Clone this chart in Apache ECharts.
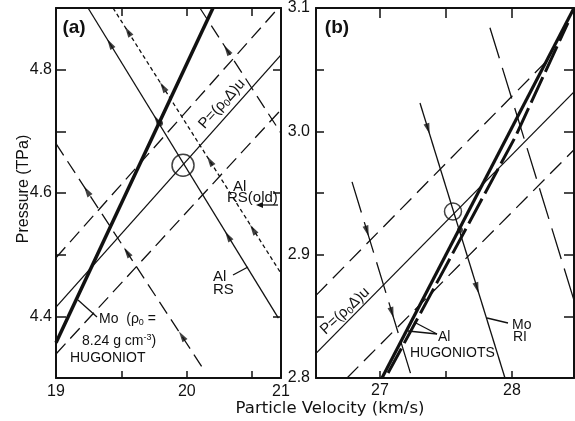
<!DOCTYPE html>
<html><head><meta charset="utf-8">
<script src="https://cdn.jsdelivr.net/npm/echarts@6/dist/echarts.min.js"></script>
<style>html,body{margin:0;padding:0;background:#fff}#c{width:575px;height:421px}</style>
</head><body><div id="c"></div>
<script>
// ---------- Panel (a) ----------
const aXRange = [19, 20.72];
const aYRange = [4.3, 4.9];
const aXLabelValues = [19, 20, 20.72];
const aXTickLabels = ['19', '20', '21'];
const aXTickValues = [19.5, 20, 20.5];
const aYLabelValues = [4.4, 4.6, 4.8];
const aYTickLabels = ['4.4', '4.6', '4.8'];
const aYTickValues = [4.4, 4.5, 4.6, 4.7, 4.8];
const aYRightTickValues = [4.4, 4.6, 4.8];

const aMoHugoniot   = [[19.0, 4.357], [20.2, 4.90]];
const aRhoDeltaU    = [[19.0, 4.415], [20.72, 4.824]];
const aUpperBound   = [[19.0, 4.495], [20.70, 4.90]];
const aLowerBound   = [[19.0, 4.339], [20.72, 4.735]];
const aAlRS         = [[19.245, 4.90], [20.70, 4.397]];
const aAlRSold      = [[19.436, 4.90], [20.713, 4.472]];
const aLeftDashed   = [[19.0, 4.68], [20.116, 4.318]];
const aRightDashed  = [[20.10, 4.90], [20.72, 4.697]];
const aAlRSArrows     = [[19.413, 4.842], [19.772, 4.718], [20.315, 4.530]];
const aAlRSoldArrows  = [[19.55, 4.862], [19.818, 4.772], [20.177, 4.652], [20.506, 4.541]];
const aLeftArrows     = [[19.237, 4.603], [19.543, 4.504], [19.963, 4.368]];
const aRightArrows    = [[20.307, 4.832]];
const aCircle = [19.971, 4.645];
const aDot = [19.795, 4.713];

// ---------- Panel (b) ----------
const bXRange = [26.515, 28.47];
const bYRange = [2.8, 3.1];
const bXLabelValues = [27, 28];
const bXTickLabels = ['27', '28'];
const bXTickValues = [27, 27.5, 28];
const bYLabelValues = [2.8, 2.9, 3.0, 3.1];
const bYTickLabels = ['2.8', '2.9', '3.0', '3.1'];
const bYTickValues = [2.85, 2.9, 2.95, 3.0, 3.05];

const bAlHugSolid   = [[27.015, 2.80], [28.47, 3.10]];
const bAlHugDashed  = [[27.061, 2.804], [27.455, 2.882], [28.023, 2.995], [28.424, 3.088]];
const bRhoDeltaU    = [[26.515, 2.820], [28.47, 3.032]];
const bUpperBound   = [[26.515, 2.867], [28.29, 3.060]];
const bLowerBound   = [[26.75, 2.80], [28.47, 2.985]];
const bMoRI         = [[27.303, 3.023], [27.947, 2.80]];
const bLeftDashed   = [[26.788, 2.959], [27.242, 2.80]];
const bRightDashed  = [[27.833, 3.084], [28.47, 2.863]];
const bMoRIArrows   = [[27.364, 3.002], [27.735, 2.873]];
const bLeftArrows   = [[26.902, 2.919], [27.091, 2.853]];
const bCircle = [27.553, 2.935];
const bDot = [27.606, 2.92];

// ---------- styling helpers ----------
const INK = '#111';
const FONT = 'Liberation Sans';
function pick(vals, labels, v) {
  for (let i = 0; i < vals.length; i++) if (Math.abs(vals[i] - v) < 1e-6) return labels[i];
  return '';
}
function axis(grid, pos, range, tickVals, tickLen, labelVals, labels, margin) {
  return {
    type: 'value', gridIndex: grid, position: pos, min: range[0], max: range[1],
    axisLine: { show: true, onZero: false, lineStyle: { color: INK, width: 2 } },
    axisTick: { show: true, inside: true, length: tickLen, customValues: tickVals, lineStyle: { color: INK, width: 1.5 } },
    axisLabel: labelVals ? {
      show: true, customValues: labelVals, formatter: v => pick(labelVals, labels, v),
      color: INK, fontFamily: FONT, fontSize: 16, margin: margin
    } : { show: false },
    splitLine: { show: false }
  };
}
function ln(id, data, g, w, type) {
  return { id, type: 'line', data, xAxisIndex: g ? 2 : 0, yAxisIndex: g ? 2 : 0,
    symbol: 'none', silent: true, animation: false, z: 2,
    lineStyle: { color: INK, width: w, type: type || 'solid', cap: 'butt' } };
}
const ARROW = 'path://M0,-6 L3,5 L-3,5 Z';
function arr(id, data, g) {
  return { id, type: 'scatter', data, xAxisIndex: g ? 2 : 0, yAxisIndex: g ? 2 : 0,
    symbol: ARROW, symbolSize: [6, 11], itemStyle: { color: INK }, z: 5, silent: true };
}
function circ(id, pt, g, size, filled) {
  return { id, type: 'scatter', data: [pt], xAxisIndex: g ? 2 : 0, yAxisIndex: g ? 2 : 0,
    symbol: 'circle', symbolSize: size, z: 6, silent: true,
    itemStyle: filled ? { color: INK } : { color: 'rgba(0,0,0,0)', borderColor: INK, borderWidth: 1.5 } };
}
function txt(x, y, text, size, opts) {
  opts = opts || {};
  return { type: 'text', x, y, rotation: opts.rot || 0, z: 10, silent: true,
    style: { text, fontFamily: opts.family || FONT, fontSize: size, fontWeight: opts.weight || 'normal',
      fill: INK, align: opts.align || 'left', textAlign: opts.align || 'left',
      verticalAlign: 'middle', textVerticalAlign: 'middle', rich: opts.rich } };
}
function seg(x1, y1, x2, y2) {
  return { type: 'line', z: 10, silent: true, shape: { x1, y1, x2, y2 }, style: { stroke: INK, lineWidth: 1.3 } };
}
const richSub = (s) => ({
  s: { fontFamily: FONT, fontSize: s - 5, padding: [7, 0, 0, 0], verticalAlign: 'middle' },
  t: { fontFamily: FONT, fontSize: s - 5, padding: [0, 0, 7, 0], verticalAlign: 'middle' },
  n: { fontFamily: FONT, fontSize: s, verticalAlign: 'middle' }
});

const option = {
  animation: false,
  backgroundColor: '#fff',
  grid: [
    { left: 56, top: 8, width: 225, height: 370 },
    { left: 316, top: 8, width: 258, height: 370 }
  ],
  xAxis: [
    axis(0, 'bottom', aXRange, aXTickValues, 7, aXLabelValues, aXTickLabels, 6),
    axis(0, 'top', aXRange, aXTickValues, 8, null),
    axis(1, 'bottom', bXRange, bXTickValues, 7, bXLabelValues, bXTickLabels, 5),
    axis(1, 'top', bXRange, bXTickValues, 10, null)
  ],
  yAxis: [
    axis(0, 'left', aYRange, aYTickValues, 10, aYLabelValues, aYTickLabels, 4),
    axis(0, 'right', aYRange, aYRightTickValues, 8, null),
    axis(1, 'left', bYRange, bYTickValues, 8, bYLabelValues, bYTickLabels, 6),
    axis(1, 'right', bYRange, bYTickValues, 10, null)
  ],
  series: [
    ln('aMo', aMoHugoniot, 0, 3.5),
    ln('aP', aRhoDeltaU, 0, 1.3),
    ln('aUp', aUpperBound, 0, 1.3, [14, 7]),
    ln('aLo', aLowerBound, 0, 1.3, [14, 7]),
    ln('aRS', aAlRS, 0, 1.3),
    ln('aRSold', aAlRSold, 0, 1.3, [4, 3]),
    ln('aL', aLeftDashed, 0, 1.3, [14, 7]),
    ln('aR', aRightDashed, 0, 1.3, [14, 7]),
    arr('aRSA', aAlRSArrows, 0),
    arr('aRSoldA', aAlRSoldArrows, 0),
    arr('aLA', aLeftArrows, 0),
    arr('aRA', aRightArrows, 0),
    circ('aC', aCircle, 0, 22, false),
    circ('aD', aDot, 0, 6, true),

    ln('bHs', bAlHugSolid, 1, 3.2),
    ln('bHd', bAlHugDashed, 1, 3, [28, 6]),
    ln('bP', bRhoDeltaU, 1, 1.3),
    ln('bUp', bUpperBound, 1, 1.3, [16, 8]),
    ln('bLo', bLowerBound, 1, 1.3, [16, 8]),
    ln('bMo', bMoRI, 1, 1.3),
    ln('bL', bLeftDashed, 1, 1.3, [32, 10]),
    ln('bR', bRightDashed, 1, 1.3, [32, 10]),
    arr('bMoA', bMoRIArrows, 1),
    arr('bLA', bLeftArrows, 1),
    circ('bC', bCircle, 1, 17, false),
    circ('bD', bDot, 1, 6, true)
  ],
  graphic: { elements: [
    txt(74, 28, '(a)', 19, { weight: 'bold', align: 'center' }),
    txt(337, 28, '(b)', 19, { weight: 'bold', align: 'center' }),
    txt(24, 189, 'Pressure (TPa)', 16, { align: 'center', rot: Math.PI / 2 }),
    txt(330, 409, 'Particle Velocity (km/s)', 16.5, { align: 'center', family: 'DejaVu Sans' }),
    txt(222, 104, '{n|P=(ρ}{s|0}{n|Δ)u}', 15, { align: 'center', rot: 48 * Math.PI / 180, rich: richSub(15) }),
    txt(345, 311, '{n|P=(ρ}{s|0}{n|Δ)u}', 15, { align: 'center', rot: 43 * Math.PI / 180, rich: richSub(15) }),
    txt(233, 187, 'Al', 15),
    txt(227, 198, 'RS(old)', 15),
    seg(278, 205, 262, 205),
    { type: 'polygon', z: 10, silent: true, shape: { points: [[256, 205], [263, 202], [263, 208]] }, style: { fill: INK } },
    txt(213, 277, 'Al', 15),
    txt(213, 290, 'RS', 15),
    seg(233, 275, 248, 267),
    txt(99, 319, '{n|Mo  (ρ}{s|0}{n| =}', 14, { rich: richSub(14) }),
    txt(82, 341, '{n|8.24 g cm}{t|-3}{n|)}', 14, { rich: richSub(14) }),
    txt(70, 358, 'HUGONIOT', 14),
    seg(97, 317, 78, 300),
    txt(438, 337, 'Al', 14),
    txt(410, 353, 'HUGONIOTS', 14),
    seg(437, 334, 414, 322),
    seg(437, 334, 408, 331),
    txt(512, 325, 'Mo', 14),
    txt(513, 337, 'RI', 14),
    seg(508, 323, 487, 318)
  ] }
};

const chart = echarts.init(document.getElementById('c'), null, { renderer: 'canvas' });
chart.setOption(option);

function rot(grid, line, toStart) {
  const p0 = chart.convertToPixel({ gridIndex: grid }, line[0]);
  const p1 = chart.convertToPixel({ gridIndex: grid }, line[line.length - 1]);
  let dx = p1[0] - p0[0], dy = p1[1] - p0[1];
  if (toStart) { dx = -dx; dy = -dy; }
  return Math.atan2(-dx, -dy) * 180 / Math.PI;
}
chart.setOption({ series: [
  { id: 'aRSA', symbolRotate: rot(0, aAlRS, true) },
  { id: 'aRSoldA', symbolRotate: rot(0, aAlRSold, true) },
  { id: 'aLA', symbolRotate: rot(0, aLeftDashed, true) },
  { id: 'aRA', symbolRotate: rot(0, aRightDashed, true) },
  { id: 'bMoA', symbolRotate: rot(1, bMoRI, false) },
  { id: 'bLA', symbolRotate: rot(1, bLeftDashed, false) }
] });
</script>
</body></html>
